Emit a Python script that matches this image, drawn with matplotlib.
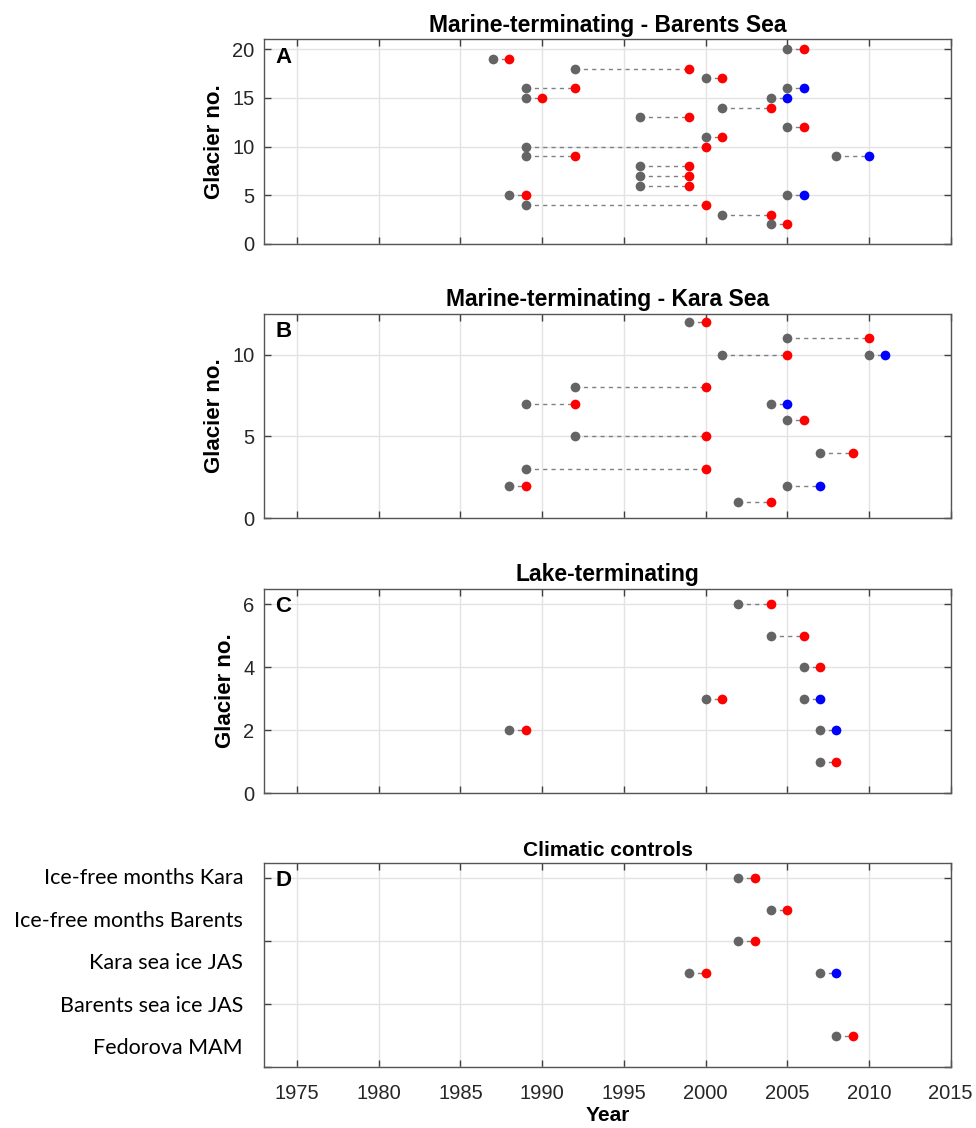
import matplotlib.pyplot as plt
import matplotlib.transforms as mtransforms
import numpy as np

# panel A - marine-terminating, Barents Sea
a_no = [20, 19, 18, 17, 16, 16, 15, 15, 14, 13, 12, 11, 10, 9, 9, 8, 7, 6, 5, 5, 4, 3, 2]
a_start = [2005, 1987, 1992, 2000, 1989, 2005, 1989, 2004, 2001, 1996, 2005, 2000,
           1989, 1989, 2008, 1996, 1996, 1996, 1988, 2005, 1989, 2001, 2004]
a_end = [2006, 1988, 1999, 2001, 1992, 2006, 1990, 2005, 2004, 1999, 2006, 2001,
         2000, 1992, 2010, 1999, 1999, 1999, 1989, 2006, 2000, 2004, 2005]
a_kind = ['r', 'r', 'r', 'r', 'r', 'b', 'r', 'b', 'r', 'r', 'r', 'r',
          'r', 'r', 'b', 'r', 'r', 'r', 'r', 'b', 'r', 'r', 'r']

# panel B - marine-terminating, Kara Sea
b_no = [12, 11, 10, 10, 8, 7, 7, 6, 5, 4, 3, 2, 2, 1]
b_start = [1999, 2005, 2001, 2010, 1992, 1989, 2004, 2005, 1992, 2007, 1989, 1988, 2005, 2002]
b_end = [2000, 2010, 2005, 2011, 2000, 1992, 2005, 2006, 2000, 2009, 2000, 1989, 2007, 2004]
b_kind = ['r', 'r', 'r', 'b', 'r', 'r', 'b', 'r', 'r', 'r', 'r', 'r', 'b', 'r']

# panel C - lake-terminating
c_no = [6, 5, 4, 3, 3, 2, 2, 1]
c_start = [2002, 2004, 2006, 2000, 2006, 1988, 2007, 2007]
c_end = [2004, 2006, 2007, 2001, 2007, 1989, 2008, 2008]
c_kind = ['r', 'r', 'r', 'r', 'b', 'r', 'b', 'r']

# panel D - climatic controls
d_no = [6, 5, 4, 3, 3, 1]
d_start = [2002, 2004, 2002, 1999, 2007, 2008]
d_end = [2003, 2005, 2003, 2000, 2008, 2009]
d_kind = ['r', 'r', 'r', 'r', 'b', 'r']
d_labels = ['Ice-free months Kara', 'Ice-free months Barents', 'Kara sea ice JAS',
            'Barents sea ice JAS', 'Fedorova MAM']

year_ticks = np.arange(1975, 2016, 5)

plt.rcParams['font.family'] = ['Liberation Sans', 'DejaVu Sans']

gray = '#646464'
kind_color = {'r': '#ff0000', 'b': '#0000ff'}
tick_col = '#262626'

fig = plt.figure(figsize=(9.76, 11.28), dpi=100)
left, width = 0.2708, 0.7033
bottoms = [0.7837, 0.5405, 0.2967, 0.0538]
height = 0.1814


def draw_panel(ax, no, start, end, kind):
    for n, s, e, k in zip(no, start, end, kind):
        ax.plot([s, e], [n, n], linestyle=(0, (3, 3)), color='#808080', lw=1, zorder=2)
        ax.plot(s, n, 'o', color=gray, ms=7, mew=0, zorder=3)
        ax.plot(e, n, 'o', color=kind_color[k], ms=7, mew=0, zorder=3)


def style_axes(ax, letter):
    ax.set_xlim(1973, 2015)
    ax.set_xticks(year_ticks)
    ax.grid(True, color='#e3e3e3', lw=1)
    ax.set_axisbelow(True)
    ax.tick_params(direction='in', length=5, width=1, colors='#404040',
                   labelcolor=tick_col, labelsize=14.5, top=True, right=True, pad=7)
    ax.tick_params(axis='x', pad=12)
    for sp in ax.spines.values():
        sp.set_color('#555555')
        sp.set_linewidth(1)
    ax.text(0.016, 0.965, letter, transform=ax.transAxes, ha='left', va='top',
            fontsize=16, fontweight='bold')


panels = [
    (a_no, a_start, a_end, a_kind, 'Marine-terminating - Barents Sea', 'A', 21, [0, 5, 10, 15, 20]),
    (b_no, b_start, b_end, b_kind, 'Marine-terminating - Kara Sea', 'B', 12.5, [0, 5, 10]),
    (c_no, c_start, c_end, c_kind, 'Lake-terminating', 'C', 6.5, [0, 2, 4, 6]),
]

for i, (no, st, en, kd, title, letter, ytop, yt) in enumerate(panels):
    ax = fig.add_axes([left, bottoms[i], width, height])
    draw_panel(ax, no, st, en, kd)
    style_axes(ax, letter)
    ax.set_ylim(0, ytop)
    ax.set_yticks(yt)
    ax.set_xticklabels([])
    ax.set_title(title, fontsize=16.5, fontweight='bold', pad=5.5)
    ax.set_ylabel('Glacier no.', fontsize=16, fontweight='bold', labelpad=5)

# climatic controls
ax = fig.add_axes([left, bottoms[3], width, height])
draw_panel(ax, d_no, d_start, d_end, d_kind)
style_axes(ax, 'D')
ax.set_ylim(0, 6.5)
ax.set_yticks([0, 2, 4, 6])
ax.set_yticklabels([])
ax.set_title('Climatic controls', fontsize=15, fontweight='bold', pad=5)
ax.set_xlabel('Year', fontsize=15, fontweight='bold', labelpad=2)
trans = mtransforms.blended_transform_factory(ax.transAxes, ax.transData)
for lab, yy in zip(d_labels, np.linspace(6, 0.6, len(d_labels))):
    ax.text(-0.031, yy, lab, transform=trans, ha='right', va='center',
            fontsize=15.5, family=['Lato', 'DejaVu Sans'], color='black')

fig.savefig('out.png', dpi=100)
